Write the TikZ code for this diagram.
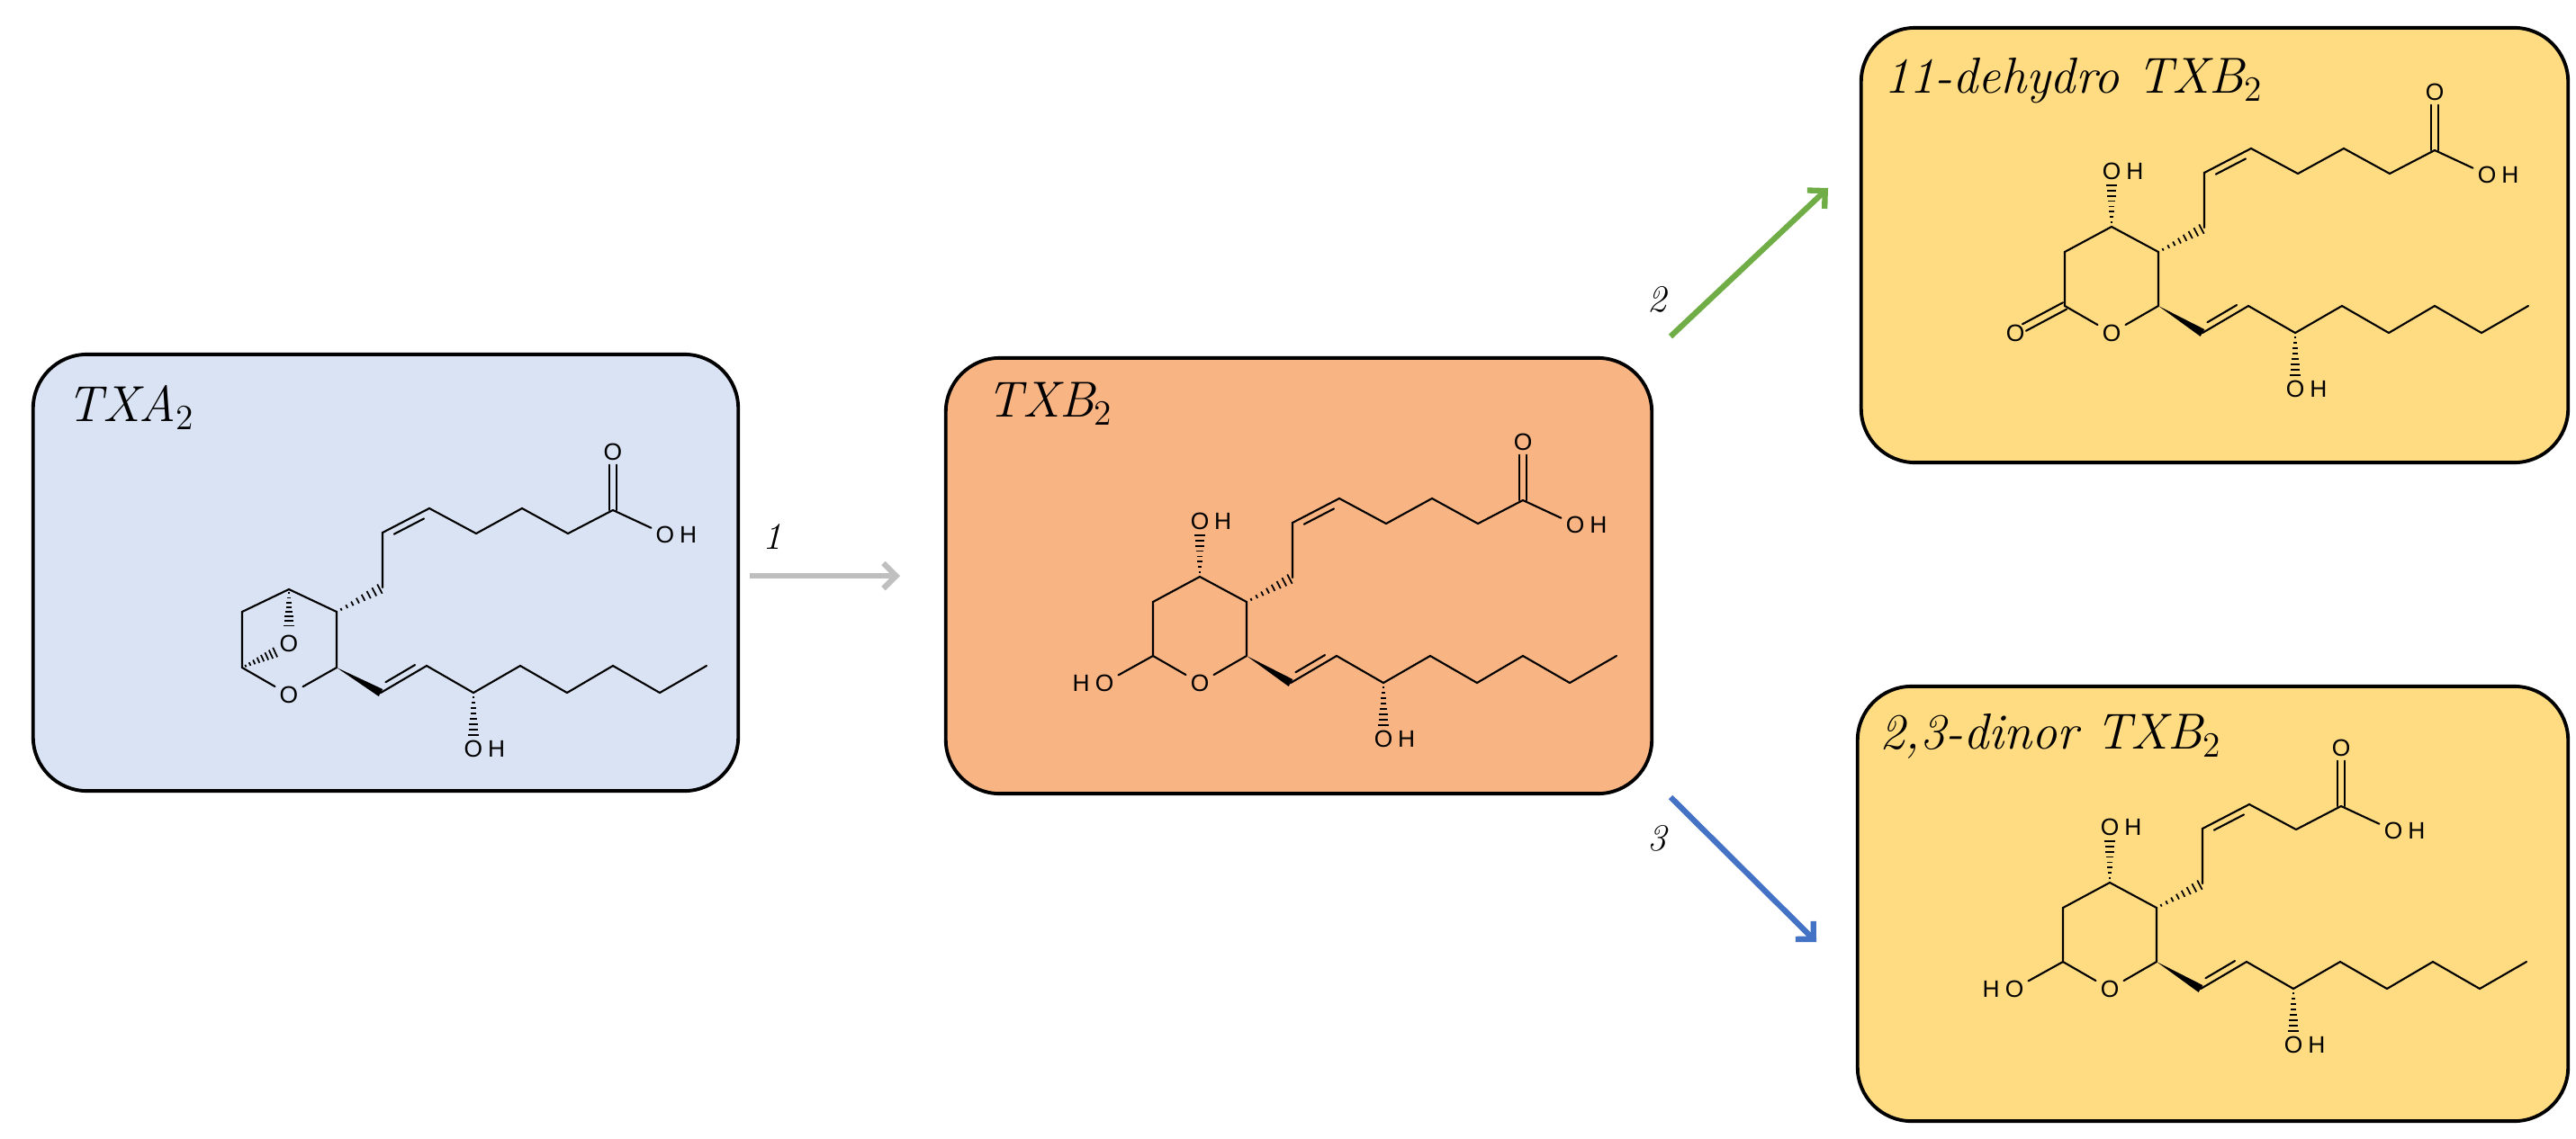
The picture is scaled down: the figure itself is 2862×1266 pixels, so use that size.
\documentclass[tikz,border=0pt]{standalone}
\usepackage{fontspec}
\setsansfont{Liberation Sans}
\usetikzlibrary{calc,arrows.meta}
\definecolor{cA}{HTML}{DAE3F3}
\definecolor{cB}{HTML}{F8B482}
\definecolor{cC}{HTML}{FFDC82}
\definecolor{gArr}{HTML}{BFBFBF}
\definecolor{grArr}{HTML}{70AD47}
\definecolor{bArr}{HTML}{4472C4}
\tikzset{
  bond/.style={line width=0.6pt,line cap=round},
  atom/.style={font=\sffamily\fontsize{7.5}{8}\selectfont,inner sep=1.3pt},
  atomH/.style={font=\sffamily\fontsize{7.5}{8}\selectfont,inner sep=0pt,anchor=west},
  atomHl/.style={font=\sffamily\fontsize{7.5}{8}\selectfont,inner sep=0pt,anchor=east},
  mbox/.style={draw=black,line width=1.1pt,rounded corners=0.6cm,inner sep=0pt},
  ttl/.style={anchor=base west,inner sep=0pt,font=\fontsize{16}{18}\selectfont\itshape},
  rlab/.style={font=\fontsize{12}{14}\selectfont\itshape,inner sep=0pt},
  rarr/.style={line width=1.8pt,-{Straight Barb[length=4pt,width=8pt,line width=1.8pt]}}
}
\newcommand\hashb[2]{\foreach \t in {0.1,0.22,...,0.95}{\pgfmathsetmacro\hw{0.25+\t*1.5}\draw[line width=0.5pt] ($(#1)!\t!(#2)!\hw pt!90:(#2)$) -- ($(#1)!\t!(#2)!\hw pt!-90:(#2)$);}}
\newcommand\wedgeb[2]{\fill ($(#1)$) -- ($(#2)!1.3pt!90:(#1)$) -- ($(#2)!1.3pt!-90:(#1)$) -- cycle;}
\newcommand\lowerchain{%
  \coordinate (B1) at (49,90); \coordinate (B2) at (100,60); \coordinate (B3) at (152,90);
  \coordinate (B4) at (204,60); \coordinate (B5) at (256,90); \coordinate (B6) at (307,60);
  \coordinate (B7) at (359,90); \coordinate (B8) at (411,60);
  \wedgeb{R5}{B1}
  \draw[bond] (B1)--(B2)--(B3)--(B4)--(B5)--(B6)--(B7)--(B8);
  \draw[bond] ($(B1)!0.18!(B2)!2.1pt!90:(B2)$) -- ($(B1)!0.82!(B2)!2.1pt!90:(B2)$);
  \node[atom] (ob) at (152,152) {O}; \node[atomH] at (ob.east) {H};
  \coordinate (Bh) at (152,140);
  \hashb{B3}{Bh}
}
\newcommand\upperchain{%
  \coordinate (A1) at (51,-27); \coordinate (A2) at (51,-88); \coordinate (A3) at (103,-115);
  \coordinate (A4) at (155,-87);
  \hashb{R4}{A1}
  \draw[bond] (A1)--(A2)--(A3)--(A4);
  \draw[bond] ($(A2)!0.18!(A3)!2.1pt!-90:(A3)$) -- ($(A2)!0.82!(A3)!2.1pt!-90:(A3)$);
}
\newcommand\acid[1]{% x of carboxyl carbon
  \coordinate (Cc) at (#1,-113);
  \node[atom] (oc) at (#1,-178) {O};
  \draw[bond] ([xshift=-1.1pt]Cc) -- ([xshift=-1.1pt]oc.south);
  \draw[bond] ([xshift=1.1pt]Cc) -- ([xshift=1.1pt]oc.south);
  \node[atom] (oh) at (#1+58,-86) {O}; \node[atomH] at (oh.east) {H};
  \draw[bond] (Cc) -- (oh);
}
\newcommand\longtail{\acid{307}\draw[bond] (A4)--(206,-115)--(257,-87)--(Cc);}
\newcommand\ringTXB{%
  \coordinate (R3) at (-52,-28); \coordinate (R2) at (-104,0); \coordinate (R1) at (-104,60);
  \coordinate (R5) at (0,60);
  \node[atom] (ro) at (-52,90) {O};
  \draw[bond] (R5)--(R4)--(R3)--(R2)--(R1)--(ro)--(R5);
  \node[atom] (o3) at (-52,-90) {O}; \node[atomH] at (o3.east) {H};
  \coordinate (R3h) at (-52,-77);
  \hashb{R3}{R3h}
}
\newcommand\hoR{\node[atom] (o1) at (-158,90) {O}; \node[atomHl] at (o1.west) {H}; \draw[bond] (R1)--(o1);}
\begin{document}
\begin{tikzpicture}[x=0.01cm,y=-0.01cm]
\useasboundingbox (0,0) rectangle (2862,1266);
% boxes
\node[mbox,fill=cA,minimum width=7.83cm,minimum height=4.85cm] (bA) at (428.5,636.5) {};
\node[mbox,fill=cB,minimum width=7.84cm,minimum height=4.84cm] (bB) at (1443,640) {};
\node[mbox,fill=cC,minimum width=7.85cm,minimum height=4.83cm] (bC) at (2460.5,272.5) {};
\node[mbox,fill=cC,minimum width=7.89cm,minimum height=4.83cm] (bD) at (2458.5,1004.5) {};
% titles
\node[ttl] (tA) at (74,468) {TXA\textsubscript{\upshape 2}};
\node[ttl] (tB) at (1096,463) {TXB\textsubscript{\upshape 2}};
\node[ttl] (tC) at (2093,103) {11-dehydro TXB\textsubscript{\upshape 2}};
\node[ttl] (tD) at (2088,832) {2,3-dinor TXB\textsubscript{\upshape 2}};
% arrows
\coordinate (a1s) at (833,640); \coordinate (a1e) at (1000,640);
\coordinate (a2s) at (1856,374); \coordinate (a2e) at (2031,209);
\coordinate (a3s) at (1856,886); \coordinate (a3e) at (2018,1047);
\draw[rarr,gArr] (a1s) -- (a1e);
\draw[rarr,grArr] (a2s) -- (a2e);
\draw[rarr,bArr] (a3s) -- (a3e);
\node[rlab] (l1) at (858,596) {1};
\node[rlab] (l2) at (1841,333) {2};
\node[rlab] (l3) at (1841,932) {3};
% TXA2
\begin{scope}[shift={(374,680)}]
  \coordinate (R4) at (0,0);
  \coordinate (R3) at (-53,-25); \coordinate (R2) at (-105,0); \coordinate (R1) at (-105,62);
  \coordinate (R5) at (0,62);
  \node[atom] (ro) at (-53,92) {O};
  \node[atom] (obr) at (-53,35) {O};
  \draw[bond] (R5)--(R4)--(R3)--(R2)--(R1)--(ro)--(R5);
  \coordinate (h1) at (-53,18); \hashb{R3}{h1}
  \coordinate (h2) at (-66,44); \hashb{R1}{h2}
  \upperchain \longtail \lowerchain
\end{scope}
% TXB2
\begin{scope}[shift={(1385,669)}]
  \coordinate (R4) at (0,0);
  \ringTXB \hoR \upperchain \longtail \lowerchain
\end{scope}
% 11-dehydro TXB2
\begin{scope}[shift={(2398,280)}]
  \coordinate (R4) at (0,0);
  \ringTXB
  \node[atom] (ok) at (-159,90) {O};
  \coordinate (okb) at (-149,84);
  \draw[bond] ($(R1)!1.2pt!90:(okb)$) -- ($(okb)!1.2pt!-90:(R1)$);
  \draw[bond] ($(R1)!1.2pt!-90:(okb)$) -- ($(okb)!1.2pt!90:(R1)$);
  \upperchain \longtail \lowerchain
\end{scope}
% 2,3-dinor TXB2
\begin{scope}[shift={(2396,1009)}]
  \coordinate (R4) at (0,0);
  \ringTXB \hoR \upperchain
  \acid{205}\draw[bond] (A4)--(Cc);
  \lowerchain
\end{scope}
\end{tikzpicture}
\end{document}
